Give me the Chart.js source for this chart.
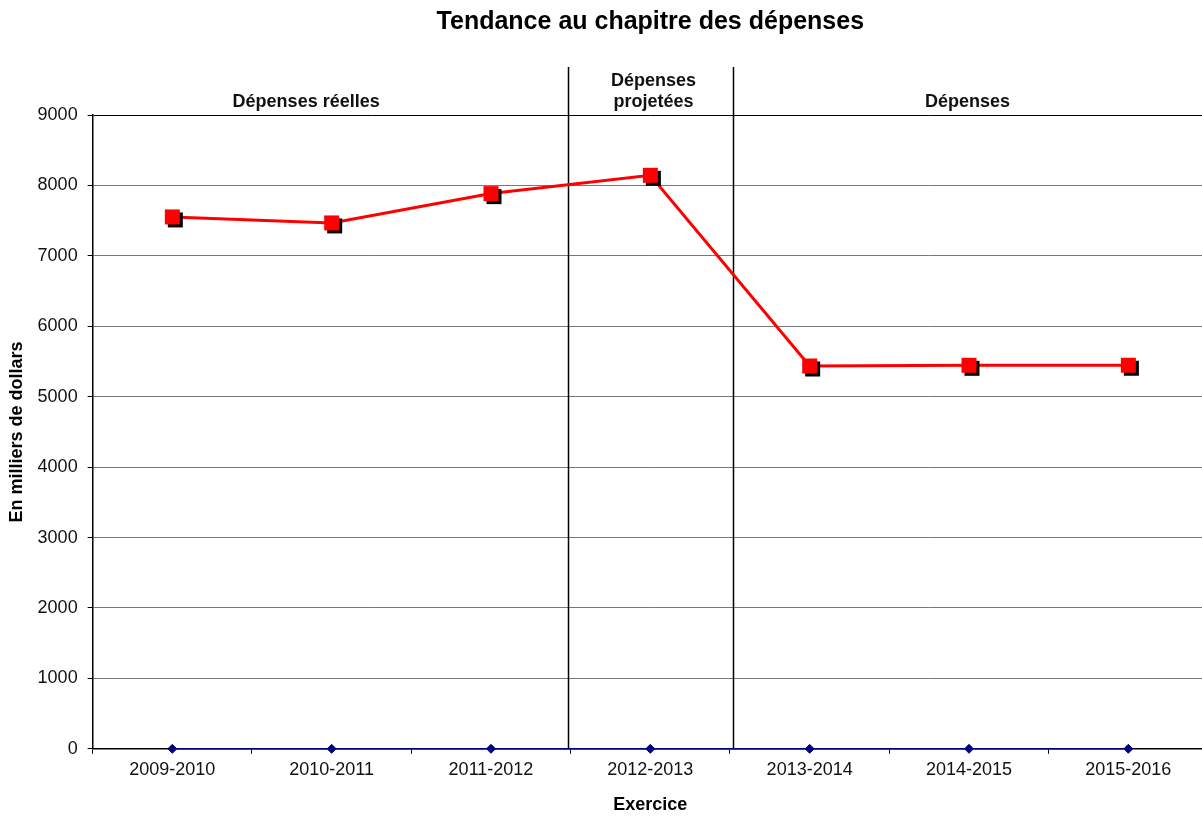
<!DOCTYPE html>
<html>
<head>
<meta charset="utf-8">
<script src="https://cdn.jsdelivr.net/npm/chart.js@4"></script>
<style>
html, body { margin: 0; padding: 0; background: #fff; overflow: hidden; }
#graphique { display: block; }
</style>
</head>
<body>
<canvas id="graphique" width="1219" height="816"></canvas>
<script>
// données
const exercices = ['2009-2010', '2010-2011', '2011-2012', '2012-2013', '2013-2014', '2014-2015', '2015-2016'];
const depenses = [7553, 7468, 7884, 8144, 5436, 5446, 5447];
const ligneZero = [0, 0, 0, 0, 0, 0, 0];
const sections = [['Dépenses réelles'], ['Dépenses', 'projetées'], ['Dépenses']];
const ticksY = [0, 1000, 2000, 3000, 4000, 5000, 6000, 7000, 8000, 9000];

// position des sections en unités de catégorie
const centresSections = [0.84, 3.02, 4.99];
const separations = [2.486, 3.52];

Chart.defaults.font.family = "'Liberation Sans', Arial, sans-serif";
Chart.defaults.color = '#111';

function carreOmbre() {
  const c = document.createElement('canvas');
  c.width = 23;
  c.height = 23;
  const g = c.getContext('2d');
  g.fillStyle = '#000';
  g.fillRect(7, 7, 15, 15);
  g.fillStyle = '#ff0000';
  g.fillRect(4, 4, 15, 15);
  return c;
}

const separateurs = {
  id: 'separateurs',
  beforeDatasetsDraw(chart) {
    const { ctx, chartArea, scales: { x } } = chart;
    ctx.save();
    ctx.strokeStyle = '#000';
    ctx.lineWidth = 1.5;
    separations.forEach(v => {
      const px = Math.round(x.getPixelForValue(v)) + 0.5;
      ctx.beginPath();
      ctx.moveTo(px, chartArea.top - 48);
      ctx.lineTo(px, chartArea.bottom);
      ctx.stroke();
    });
    ctx.font = "bold 18px 'Liberation Sans', Arial, sans-serif";
    ctx.textAlign = 'center';
    ctx.textBaseline = 'middle';
    ctx.fillStyle = '#111';
    sections.forEach((lignes, i) => {
      const px = x.getPixelForValue(centresSections[i]);
      lignes.forEach((t, j) => {
        const py = chartArea.top - 13 - (lignes.length - 1 - j) * 21;
        ctx.fillText(t, px, py);
      });
    });
    ctx.restore();
  }
};

new Chart(document.getElementById('graphique'), {
  type: 'line',
  data: {
    labels: exercices,
    datasets: [
      {
        label: 'Dépenses',
        data: depenses,
        borderColor: '#ff0000',
        borderWidth: 3,
        pointStyle: carreOmbre(),
        pointRadius: 8,
        tension: 0,
        clip: false,
        order: 1
      },
      {
        label: 'Zéro',
        data: ligneZero,
        borderColor: '#000080',
        backgroundColor: '#000080',
        borderWidth: 1.5,
        pointStyle: 'rectRot',
        pointRadius: 4.5,
        pointBorderWidth: 1,
        tension: 0,
        clip: false,
        order: 2
      }
    ]
  },
  options: {
    responsive: false,
    animation: false,
    layout: { padding: { left: 6, right: 2, top: 0, bottom: 0 } },
    plugins: {
      legend: { display: false },
      tooltip: { enabled: false },
      title: {
        display: true,
        fullSize: false,
        text: 'Tendance au chapitre des dépenses',
        color: '#000',
        font: { size: 25, weight: 'bold' },
        padding: { top: 7, bottom: 78 }
      }
    },
    scales: {
      x: {
        offset: true,
        grid: { drawOnChartArea: false, offset: true, tickLength: 5, color: '#000', lineWidth: 1 },
        border: { color: '#000', width: 1.5 },
        ticks: { font: { size: 18 }, padding: 5, maxRotation: 0, autoSkip: false },
        title: {
          display: true,
          text: 'Exercice',
          color: '#000',
          font: { size: 18, weight: 'bold' },
          padding: { top: 9, bottom: 0 }
        }
      },
      y: {
        min: 0,
        max: 9000,
        afterBuildTicks: axis => { axis.ticks = ticksY.map(v => ({ value: v })); },
        ticks: { font: { size: 18 }, padding: 10, callback: v => String(v) },
        grid: {
          color: c => (c.tick.value === 9000 || c.tick.value === 0) ? '#000' : '#777',
          tickColor: '#000',
          tickLength: 5,
          lineWidth: 1
        },
        border: { color: '#000', width: 1.5 },
        title: {
          display: true,
          text: 'En milliers de dollars',
          color: '#000',
          font: { size: 18, weight: 'bold' },
          padding: { top: 0, bottom: 0 }
        }
      }
    }
  },
  plugins: [separateurs]
});
</script>
</body>
</html>
